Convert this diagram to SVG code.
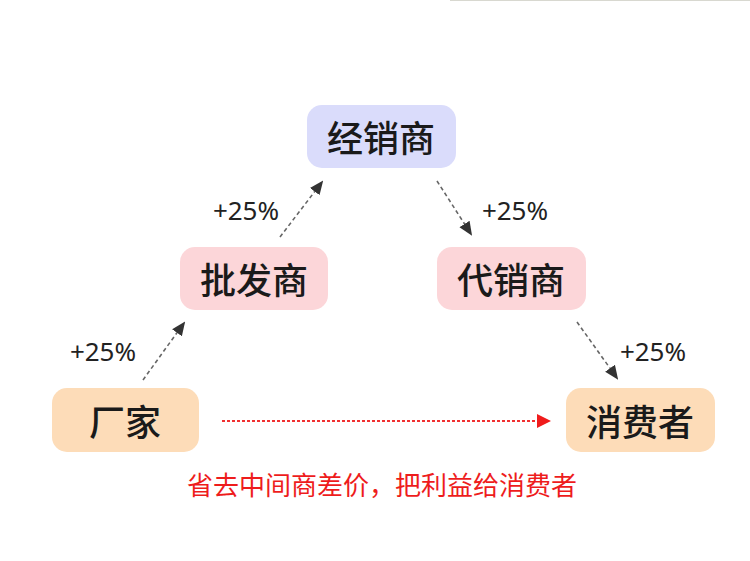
<svg xmlns="http://www.w3.org/2000/svg" width="750" height="561" viewBox="0 0 750 561">
<defs>
<style>
.node-text{font-family:"Noto Sans CJK SC","Noto Sans",sans-serif;font-size:36px;font-weight:500;fill:#1a1a1a;text-anchor:middle;dominant-baseline:central}
.pct{font-family:"Noto Sans","Liberation Sans",sans-serif;font-size:26px;fill:#222;text-anchor:middle;dominant-baseline:central}
.conn{stroke:#666;stroke-width:1.6;stroke-dasharray:4 3;fill:none}
.red{stroke:#f03030;stroke-width:2;stroke-dasharray:3 2;fill:none}
.note{font-family:"Noto Sans CJK SC",sans-serif;font-size:26px;fill:#ee1c1c;text-anchor:middle}
</style>
<marker id="ah" markerWidth="14" markerHeight="14" refX="12" refY="6" orient="auto" markerUnits="userSpaceOnUse" viewBox="0 0 14 12">
<path d="M0,0 L14,6 L0,12 z" fill="#333"/>
</marker>
<marker id="ahr" markerWidth="14" markerHeight="14" refX="12" refY="7" orient="auto" markerUnits="userSpaceOnUse" viewBox="0 0 14 14">
<path d="M0,0 L14,7 L0,14 z" fill="#f01c1c"/>
</marker>
</defs>
<rect width="750" height="561" fill="#ffffff"/>
<line x1="450" y1="0.5" x2="750" y2="0.5" stroke="#d8d8d0" stroke-width="1"/>
<g id="connectors">
<line class="conn" x1="143" y1="380" x2="184" y2="323" marker-end="url(#ah)"/>
<line class="conn" x1="280" y1="237" x2="322" y2="182" marker-end="url(#ah)"/>
<line class="conn" x1="437" y1="181" x2="471" y2="234" marker-end="url(#ah)"/>
<line class="conn" x1="577" y1="322" x2="617" y2="378" marker-end="url(#ah)"/>
<line class="red" x1="222" y1="421" x2="549" y2="421" marker-end="url(#ahr)"/>
</g>
<g id="n-jingxiao">
<rect x="307" y="105" width="149" height="63" rx="15" fill="#dadcfb"/>
<text class="node-text" x="381" y="136">经销商</text>
</g>
<g id="n-pifa">
<rect x="180" y="247" width="148" height="63" rx="15" fill="#fcd6d9"/>
<text class="node-text" x="254" y="278">批发商</text>
</g>
<g id="n-daixiao">
<rect x="437" y="247" width="149" height="63" rx="15" fill="#fcd6d9"/>
<text class="node-text" x="511" y="278">代销商</text>
</g>
<g id="n-changjia">
<rect x="52" y="388" width="147" height="64" rx="15" fill="#fddcb8"/>
<text class="node-text" x="125" y="420">厂家</text>
</g>
<g id="n-xiaofei">
<rect x="566" y="388" width="149" height="64" rx="15" fill="#fddcb8"/>
<text class="node-text" x="640" y="420">消费者</text>
</g>
<g id="labels">
<text class="pct" x="246" y="210">+25%</text>
<text class="pct" x="515" y="210">+25%</text>
<text class="pct" x="103" y="351">+25%</text>
<text class="pct" x="653" y="351">+25%</text>
<text class="note" x="382" y="495">省去中间商差价，把利益给消费者</text>
</g>
</svg>
